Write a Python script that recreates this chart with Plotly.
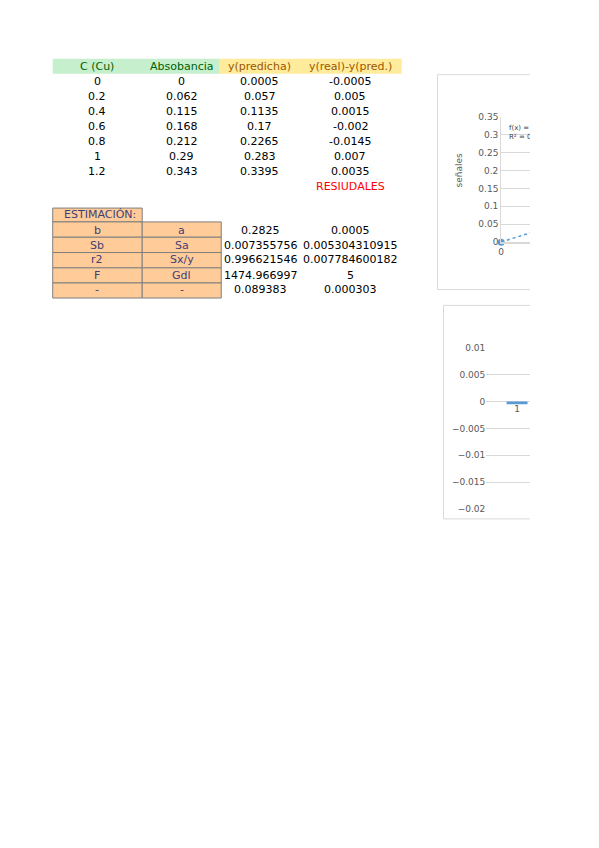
import plotly.graph_objects as go

# --- data ---
headers = ["C (Cu)", "Absobancia", "y(predicha)", "y(real)-y(pred.)"]
conc = [0, 0.2, 0.4, 0.6, 0.8, 1, 1.2]
absorb = [0, 0.062, 0.115, 0.168, 0.212, 0.29, 0.343]
pred = [0.0005, 0.057, 0.1135, 0.17, 0.2265, 0.283, 0.3395]
resid = [-0.0005, 0.005, 0.0015, -0.002, -0.0145, 0.007, 0.0035]

est_names1 = ["b", "Sb", "r2", "F", "-"]
est_names2 = ["a", "Sa", "Sx/y", "Gdl", "-"]
est_vals1 = [0.2825, 0.007355756, 0.996621546, 1474.966997, 0.089383]
est_vals2 = [0.0005, 0.005304310915, 0.007784600182, 5, 0.000303]
b, a = est_vals1[0], est_vals2[0]

categories = [1, 2, 3, 4, 5, 6, 7]

W, H = 530, 848   # page is cut at x=530, the rest stays blank


def X(p):
    return p / W


def Y(p):
    return 1 - p / H


FONT = "DejaVu Sans"
GRID = "#d9d9d9"
TICK = "#595959"
BLUE = "#5b9bd5"

shapes = []
annots = []


def text(x, y, s, color="black", size=11, align="center", angle=0):
    annots.append(dict(x=X(x), y=Y(y), xref="paper", yref="paper", text=s, showarrow=False,
                       xanchor=align, yanchor="middle", textangle=angle,
                       font=dict(family=FONT, size=size, color=color)))


def rect(x0, y0, x1, y1, fill, line=None):
    shapes.append(dict(type="rect", xref="paper", yref="paper", x0=X(x0), x1=X(x1), y0=Y(y1), y1=Y(y0),
                       fillcolor=fill, line=dict(color=line or fill, width=1 if line else 0), layer="below"))


# ---- table 1 ----
col_mid = [95, 180, 258, 349]
rect(50, 54.5, 218, 69.5, "#c6efce")
rect(218, 54.5, 401, 69.5, "#ffeb9c")
head_col = ["#006100", "#006100", "#9c5700", "#9c5700"]
for i, h in enumerate(headers):
    text(col_mid[i], 62.3, h, head_col[i])

row_y = [77.3, 92.4, 107.6, 122.8, 138, 153.2, 168.4]
for i in range(len(conc)):
    for j, col in enumerate([conc, absorb, pred, resid]):
        text(col_mid[j], row_y[i], str(col[i]))
text(349, 183.5, "RESIUDALES", "#ff0000")

# ---- table 2 ----
rect(50, 205.5, 140, 219.5, "#ffcc99", "#7f7f7f")
text(59, 212.5, "ESTIMACIÓN:", "#3f3f76", align="left")
edges = [219.5, 235, 250.5, 266, 281.3, 296.5]
mids = [228, 243.2, 257.8, 273.3, 288.3]
for i in range(5):
    rect(50, edges[i], 140, edges[i + 1], "#ffcc99", "#7f7f7f")
    rect(140, edges[i], 219.5, edges[i + 1], "#ffcc99", "#7f7f7f")
    text(95, mids[i], est_names1[i], "#3f3f76")
    text(180, mids[i], est_names2[i], "#3f3f76")
    text(259, mids[i], str(est_vals1[i]))
    text(349, mids[i], str(est_vals2[i]))

# ---- chart frames ----
rect(437, 70.5, 700, 288, "white", GRID)
rect(443, 304, 700, 520, "white", GRID)

fig = go.Figure()

# calibration chart
fig.add_trace(go.Scatter(x=[conc[0], conc[-1]], y=[a + b * conc[0], a + b * conc[-1]], mode="lines",
                         line=dict(color=BLUE, width=1.5, dash="dot"), xaxis="x", yaxis="y"))
fig.add_trace(go.Scatter(x=conc, y=absorb, mode="markers", marker=dict(color=BLUE, size=7),
                         cliponaxis=False, xaxis="x", yaxis="y"))
annots.append(dict(x=X(507), y=Y(129.5), xref="paper", yref="paper", showarrow=False,
                   text="f(x) = 0.2825x + 0.0005<br>R² = 0.9966", align="left",
                   xanchor="left", yanchor="middle", font=dict(family=FONT, size=7, color="#404040")))
text(459, 167, "señales", TICK, size=9, angle=-90)

# residual chart
yr2 = [-0.02, 0.01]
dom2 = [Y(510), Y(347)]
zero_pos = dom2[0] + (0 - yr2[0]) / (yr2[1] - yr2[0]) * (dom2[1] - dom2[0])
fig.add_trace(go.Bar(x=categories, y=resid, width=0.34, marker=dict(color=BLUE, line_width=0),
                     xaxis="x2", yaxis="y2"))

fig.update_layout(
    width=W, height=H, margin=dict(l=0, r=0, t=0, b=0),
    paper_bgcolor="white", plot_bgcolor="rgba(0,0,0,0)", showlegend=False,
    font=dict(family=FONT, size=9, color=TICK),
    shapes=shapes, annotations=annots,
    xaxis=dict(domain=[X(501), 1], range=[0, 0.089], tickvals=[0], showgrid=False, zeroline=False,
               showline=True, linecolor=GRID, linewidth=2, tickfont=dict(size=9, color=TICK), ticklen=0),
    yaxis=dict(domain=[Y(240), Y(113)], range=[0, 0.35], dtick=0.05, gridcolor=GRID, zeroline=False,
               showline=True, linecolor=GRID, tickfont=dict(size=9, color=TICK)),
    xaxis2=dict(domain=[X(486), 1], range=[0.5, 1.21], anchor="free", position=zero_pos,
                tickvals=categories, showgrid=False, zeroline=False, showline=False,
                tickfont=dict(size=9, color=TICK)),
    yaxis2=dict(domain=dom2, range=yr2, dtick=0.005, anchor="x2", gridcolor=GRID,
                zeroline=False, tickfont=dict(size=9, color=TICK)),
)

fig.write_html("out.html", config={"displayModeBar": False},
               post_script="document.body.style.margin='0';")
